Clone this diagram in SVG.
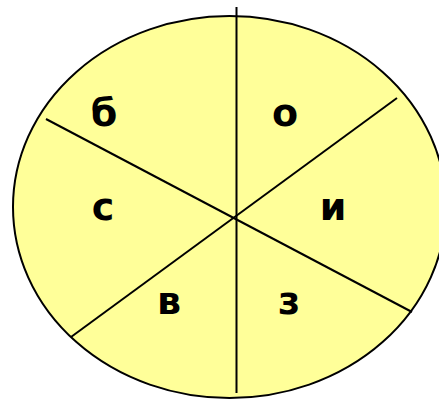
<svg xmlns="http://www.w3.org/2000/svg" width="439" height="400" viewBox="0 0 439 400">
<style>
.ln{stroke:#000;stroke-width:2;fill:none}
.lb{font-family:"DejaVu Sans",sans-serif;font-weight:bold;font-size:38px;fill:#000;text-anchor:middle}
</style>
<rect width="439" height="400" fill="#fff"/>
<ellipse id="disc" cx="229.5" cy="207" rx="216.5" ry="191" fill="#FFFF99" stroke="#000" stroke-width="2"/>
<g id="lines">
<line class="ln" x1="236.5" y1="7" x2="236.5" y2="393"/>
<line class="ln" x1="46" y1="119" x2="412" y2="312"/>
<line class="ln" x1="397" y1="98" x2="71" y2="337"/>
</g>
<g id="labels">
<text class="lb" x="104" y="126">б</text>
<text class="lb" x="285" y="126">о</text>
<text class="lb" x="103" y="220">с</text>
<text class="lb" x="333" y="220">и</text>
<text class="lb" x="169" y="314">в</text>
<text class="lb" x="289" y="314">з</text>
</g>
</svg>
